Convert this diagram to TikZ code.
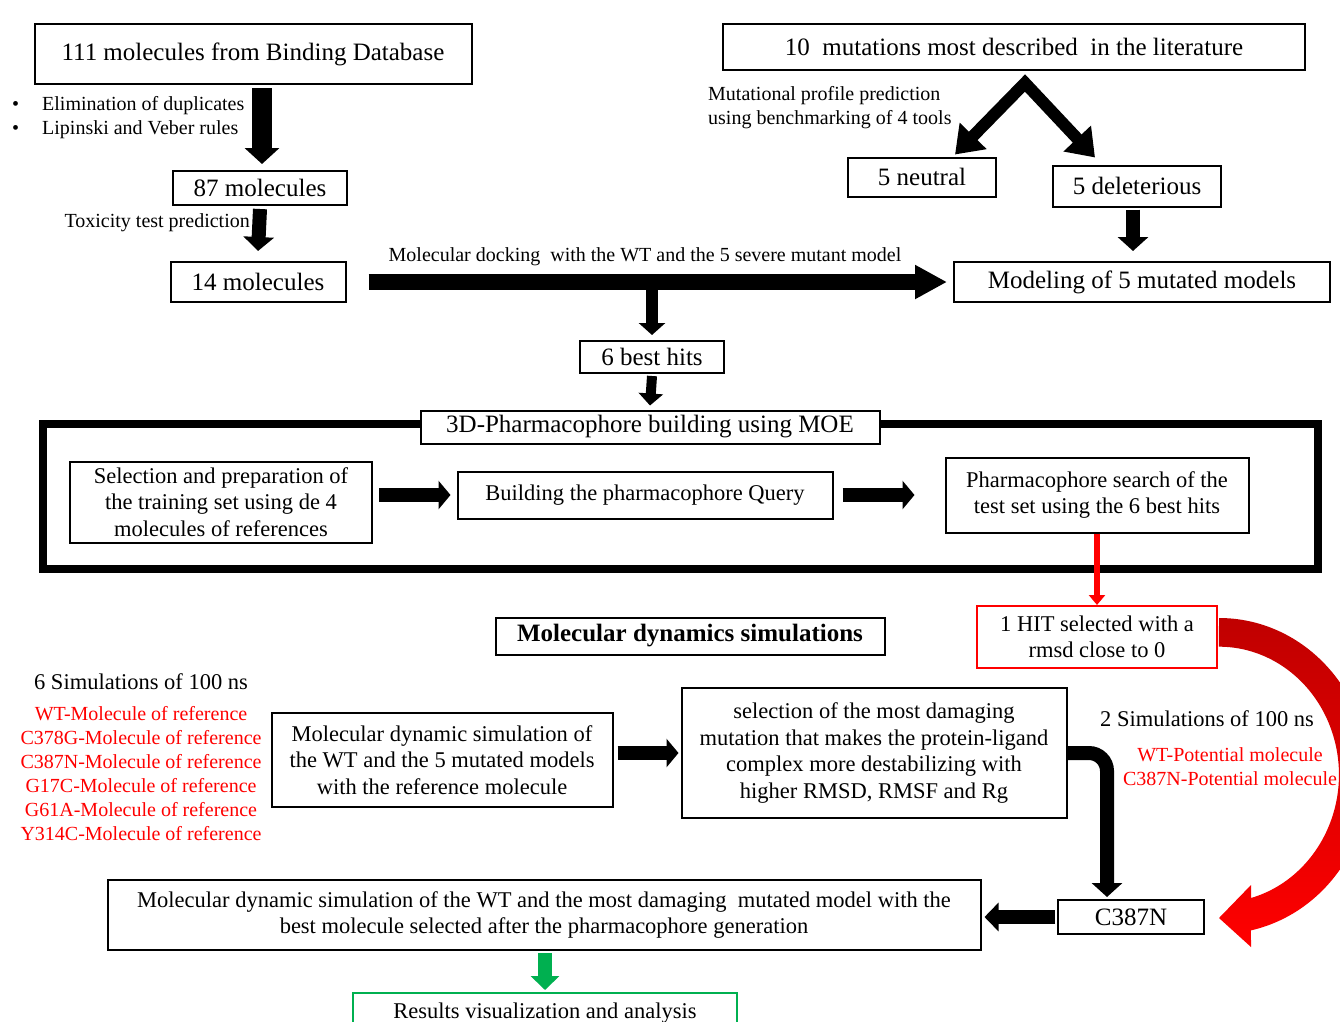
\documentclass[tikz,border=0pt]{standalone}
\usepackage{fontspec}
\setmainfont{Liberation Serif}
\usetikzlibrary{arrows.meta,positioning,calc}

\definecolor{hitred}{RGB}{255,0,0}
\definecolor{deepred}{RGB}{192,0,0}
\definecolor{resgreen}{RGB}{0,176,80}

\tikzset{
  box/.style={draw,line width=2pt,align=center,inner sep=0pt,fill=white},
  bigtext/.style={font=\fontsize{25}{30}\selectfont},
  midtext/.style={font=\fontsize{22.5}{26.5}\selectfont},
  smalltext/.style={font=\fontsize{20}{24}\selectfont},
  fat/.style n args={3}{line width=#1pt,-{Triangle[width=#2pt,length=#3pt]}},
}

\begin{document}
\begin{tikzpicture}[x=1pt,y=-1pt]
  \useasboundingbox (0,0) rectangle (1340,1021);
  % ligand branch
  \node[box,bigtext,minimum width=437pt,minimum height=60pt] (db) at (253,54) {111 molecules from Binding Database};
  \node[smalltext,anchor=west,align=left,inner sep=0pt] (filters) at (12,118) {\makebox[30pt][l]{•}Elimination of duplicates\\\makebox[30pt][l]{•}Lipinski and Veber rules};
  \node[box,bigtext,minimum width=174pt,minimum height=34pt] (m87) at (260,188) {87 molecules};
  \node[smalltext,anchor=east,inner sep=0pt] (tox) at (250,223) {Toxicity test prediction};
  \node[box,bigtext,minimum width=175pt,minimum height=40pt] (m14) at (258,282) {14 molecules};
  \draw[fat={20}{34}{16}] ($(db.south)+(9,3)$) -- ($(m87.north)+(2,-6)$);
  \draw[fat={14}{30}{14}] ($(m87.south)+(0,3)$) -- ($(m14.north)+(0,-10)$);

  % mutation branch
  \node[box,bigtext,minimum width=582pt,minimum height=46pt] (mut) at (1014,47) {10\ \ mutations most described\ \ in the literature};
  \node[smalltext,anchor=west,align=left,inner sep=0pt] (profile) at (708,108) {Mutational profile prediction\\using benchmarking of 4 tools};
  \node[box,bigtext,minimum width=148pt,minimum height=39pt] (neutral) at (922,177) {5 neutral};
  \node[box,bigtext,minimum width=168pt,minimum height=41pt] (del) at (1137,186) {5 deleterious};
  \node[box,bigtext,minimum width=376pt,minimum height=40pt] (model) at (1142,282) {Modeling of 5 mutated models};
  \coordinate (apex) at ($(mut.south)+(11,12)$);
  \draw[line width=12pt,line join=miter,{Triangle[width=36pt,length=26pt]}-{Triangle[width=36pt,length=26pt]}]
    ($(neutral.north)+(33,-2)$) -- (apex) -- ($(del.north)+(-42,-7)$);
  \draw[fat={14}{30}{14}] ($(del.south)+(-4,2)$) -- ($(model.north)+(-9,-10)$);

  % docking
  \node[smalltext] (docklbl) at (645,257) {Molecular docking\ \ with the WT and the 5 severe mutant model};
  \draw[fat={16}{32}{32}] ($(m14.east)+(22,0)$) -- ($(model.west)+(-6,0)$);
  \node[box,bigtext,minimum width=144pt,minimum height=32pt] (hits) at (652,357) {6 best hits};
  \draw[fat={12}{26}{12}] ($(hits.north)+(0,-63)$) -- ($(hits.north)+(0,-5)$);

  % pharmacophore
  \node[draw,line width=8pt,minimum width=1275pt,minimum height=145pt,inner sep=0pt] (frame) at (680.5,496.5) {};
  \node[box,bigtext,minimum width=459pt,minimum height=33pt] (moe) at (650,427) {3D-Pharmacophore building using MOE};
  \draw[fat={10}{24}{12}] ($(hits.south)+(0,2)$) -- ($(moe.north)+(0,-4)$);
  \node[box,midtext,minimum width=302pt,minimum height=81pt] (train) at (221,502) {Selection and preparation of\\the training set using de 4\\molecules of references};
  \node[box,midtext,minimum width=375pt,minimum height=47pt] (query) at (645,495) {Building the pharmacophore Query};
  \node[box,midtext,minimum width=303pt,minimum height=75pt] (search) at (1097,495) {Pharmacophore search of the\\test set using the 6 best hits};
  \draw[fat={14}{28}{12}] ($(train.east |- query.west)+(6,0)$) -- ($(query.west)+(-6,0)$);
  \draw[fat={14}{28}{12}] ($(query.east)+(9,0)$) -- ($(search.west)+(-30,0)$);

  % hit and dynamics
  \node[box,midtext,draw=hitred,minimum width=240pt,minimum height=62pt] (hit) at (1097,637) {1 HIT selected with a\\rmsd close to 0};
  \draw[hitred,fat={6}{16}{10}] (search.south) -- (hit.north);
  \node[box,bigtext,font=\fontsize{25}{30}\selectfont\bfseries,minimum width=389pt,minimum height=37pt] (mds) at (690,636) {Molecular dynamics simulations};
  \node[midtext] (sim6) at (141,682) {6 Simulations of 100 ns};
  \node[smalltext,text=hitred,align=center,inner sep=0pt] (refs) at (141,774) {WT-Molecule of reference\\C378G-Molecule of reference\\C387N-Molecule of reference\\G17C-Molecule of reference\\G61A-Molecule of reference\\Y314C-Molecule of reference};
  \node[box,midtext,minimum width=341pt,minimum height=94pt] (wtref) at (442,760) {Molecular dynamic simulation of\\the WT and the 5 mutated models\\with the reference molecule};
  \node[box,midtext,minimum width=385pt,minimum height=130pt] (damage) at (874,753) {selection of the most damaging\\mutation that makes the protein-ligand\\complex more destabilizing with\\higher RMSD, RMSF and Rg};
  \draw[fat={14}{28}{12}] ($(wtref.east |- damage.west)+(4,0)$) -- ($(damage.west)+(-2,0)$);
  \node[midtext] (sim2) at (1207,719) {2 Simulations of 100 ns};
  \node[smalltext,text=hitred,align=center,inner sep=0pt] (pot) at (1230,767) {WT-Potential molecule\\C387N-Potential molecule};
  \node[box,bigtext,minimum width=146pt,minimum height=34pt] (c387) at (1131,917) {C387N};
  \draw[fat={14}{30}{14},rounded corners=18pt] (damage.east) -| ($(c387.north)+(-24,-2)$);
  \node[box,midtext,minimum width=873pt,minimum height=70pt] (final) at (544,915) {Molecular dynamic simulation of the WT and the most damaging\ \ mutated model with the\\best molecule selected after the pharmacophore generation};
  \draw[fat={14}{28}{14}] ($(c387.west)+(-2,0)$) -- ($(final.east |- c387.west)+(3,0)$);

  % red curved connector
  \shade[top color=deepred,bottom color=hitred]
    ($(hit.east)+(1,-19)$) arc[start angle=-90,end angle=77.7,x radius=150,y radius=158]
    -- ($(c387.east)+(46,30)$) -- ($(c387.east)+(14,1)$) -- ($(c387.east)+(46,-32)$)
    -- ($(c387.east)+(46,-19)$) arc[start angle=74.5,end angle=-90,x radius=120,y radius=128]
    -- cycle;

  % results
  \node[box,midtext,draw=resgreen,minimum width=384pt,minimum height=40pt] (res) at (545,1013) {Results visualization and analysis};
  \draw[resgreen,fat={14}{28}{14}] ($(final.south)+(1,2)$) -- ($(res.north)+(0,-2)$);
\end{tikzpicture}
\end{document}
